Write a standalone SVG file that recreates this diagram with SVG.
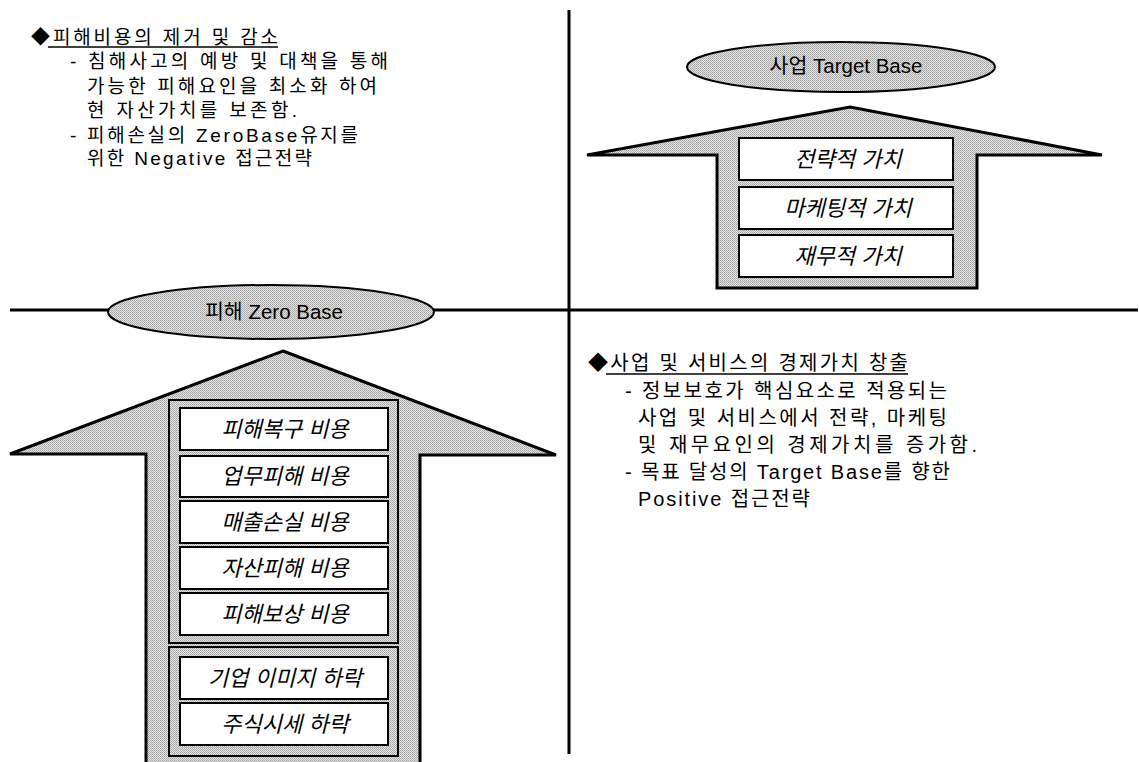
<svg xmlns="http://www.w3.org/2000/svg" width="1139" height="762" viewBox="0 0 1139 762">
<defs>
<pattern id="dots" width="2" height="2" patternUnits="userSpaceOnUse">
<rect width="2" height="2" fill="#e2e2e2"/>
<rect width="1" height="1" fill="#a4a4a4"/>
<rect x="1" y="1" width="1" height="1" fill="#b4b4b4"/>
</pattern>
<style>
.arrow{fill:url(#dots);stroke:#000;stroke-width:3;stroke-linejoin:miter}
.frame{fill:url(#dots);stroke:#000;stroke-width:2}
.box{fill:#fff;stroke:#000;stroke-width:2}
.ell{fill:url(#dots);stroke:#000;stroke-width:2}
.axis{stroke:#000;stroke-width:3;fill:none}
.lbl{font-family:"Liberation Sans","Noto Sans CJK KR",sans-serif;font-size:22px;font-style:italic;text-anchor:middle;fill:#000}
.ettl{font-family:"Liberation Sans","Noto Sans CJK KR",sans-serif;font-size:20.5px;text-anchor:middle;fill:#000}
.txt{font-family:"Liberation Sans","Noto Sans CJK KR",sans-serif;font-size:19px;fill:#000}
.txt2{font-family:"Liberation Sans","Noto Sans CJK KR",sans-serif;font-size:20px;fill:#000}
.ul{stroke:#000;stroke-width:1.5}
</style>
</defs>
<g id="connectors">
<line class="axis" x1="10" y1="310" x2="1138" y2="310"/>
<line class="axis" x1="569" y1="10" x2="569" y2="754"/>
</g>
<g id="target-arrow">
<polygon class="arrow" points="850,107 1102,155 977,155 977,288 717,288 717,155 587,155"/>
</g>
<g id="target-ellipse">
<ellipse class="ell" cx="841" cy="67" rx="154" ry="25"/>
<text class="ettl" x="846" y="73">사업 Target Base</text>
</g>
<g id="box-strategic"><rect class="box" x="739" y="138" width="214" height="42"/><text class="lbl" x="848" y="167">전략적 가치</text></g>
<g id="box-marketing"><rect class="box" x="739" y="187" width="214" height="42"/><text class="lbl" x="848" y="216">마케팅적 가치</text></g>
<g id="box-financial"><rect class="box" x="739" y="235" width="214" height="42"/><text class="lbl" x="848" y="264">재무적 가치</text></g>
<g id="zero-arrow">
<polygon class="arrow" points="283,351 556,455 420,455 420,766 146,766 146,454 10,454"/>
</g>
<g id="zero-ellipse">
<ellipse class="ell" cx="271" cy="312" rx="163" ry="27"/>
<text class="ettl" x="274" y="319">피해 Zero Base</text>
</g>
<g id="frame-costs"><rect class="frame" x="169" y="400" width="229" height="243"/></g>
<g id="box-recovery"><rect class="box" x="180" y="408" width="208" height="42"/><text class="lbl" x="285" y="437">피해복구 비용</text></g>
<g id="box-business"><rect class="box" x="180" y="456" width="208" height="41"/><text class="lbl" x="285" y="484">업무피해 비용</text></g>
<g id="box-sales"><rect class="box" x="180" y="501" width="208" height="42"/><text class="lbl" x="285" y="530">매출손실 비용</text></g>
<g id="box-asset"><rect class="box" x="180" y="547" width="208" height="42"/><text class="lbl" x="285" y="576">자산피해 비용</text></g>
<g id="box-compensation"><rect class="box" x="180" y="593" width="208" height="42"/><text class="lbl" x="285" y="622">피해보상 비용</text></g>
<g id="frame-image"><rect class="frame" x="169" y="647" width="229" height="109"/></g>
<g id="box-image"><rect class="box" x="180" y="657" width="208" height="42"/><text class="lbl" x="285" y="686">기업 이미지 하락</text></g>
<g id="box-stock"><rect class="box" x="180" y="703" width="208" height="42"/><text class="lbl" x="285" y="732">주식시세 하락</text></g>
<g id="text-negative">
<text class="txt" x="31" y="44" textLength="247" lengthAdjust="spacing">◆피해비용의 제거 및 감소</text>
<line class="ul" x1="48" y1="47" x2="278" y2="47"/>
<text class="txt" x="70" y="68" textLength="318" lengthAdjust="spacing">- 침해사고의 예방 및 대책을 통해</text>
<text class="txt" x="87" y="93" textLength="290" lengthAdjust="spacing">가능한 피해요인을 최소화 하여</text>
<text class="txt" x="87" y="117" textLength="210" lengthAdjust="spacing">현 자산가치를 보존함.</text>
<text class="txt" x="70" y="142" textLength="288" lengthAdjust="spacing">- 피해손실의 ZeroBase유지를</text>
<text class="txt" x="87" y="165" textLength="225" lengthAdjust="spacing">위한 Negative 접근전략</text>
</g>
<g id="text-positive">
<text class="txt2" x="588" y="370" textLength="320" lengthAdjust="spacing">◆사업 및 서비스의 경제가치 창출</text>
<line class="ul" x1="606" y1="374" x2="908" y2="374"/>
<text class="txt2" x="625" y="398" textLength="322" lengthAdjust="spacing">- 정보보호가 핵심요소로 적용되는</text>
<text class="txt2" x="638" y="425" textLength="309" lengthAdjust="spacing">사업 및 서비스에서 전략, 마케팅</text>
<text class="txt2" x="638" y="452" textLength="339" lengthAdjust="spacing">및 재무요인의 경제가치를 증가함.</text>
<text class="txt2" x="625" y="479" textLength="325" lengthAdjust="spacing">- 목표 달성의 Target Base를 향한</text>
<text class="txt2" x="638" y="506" textLength="172" lengthAdjust="spacing">Positive 접근전략</text>
</g>
</svg>
